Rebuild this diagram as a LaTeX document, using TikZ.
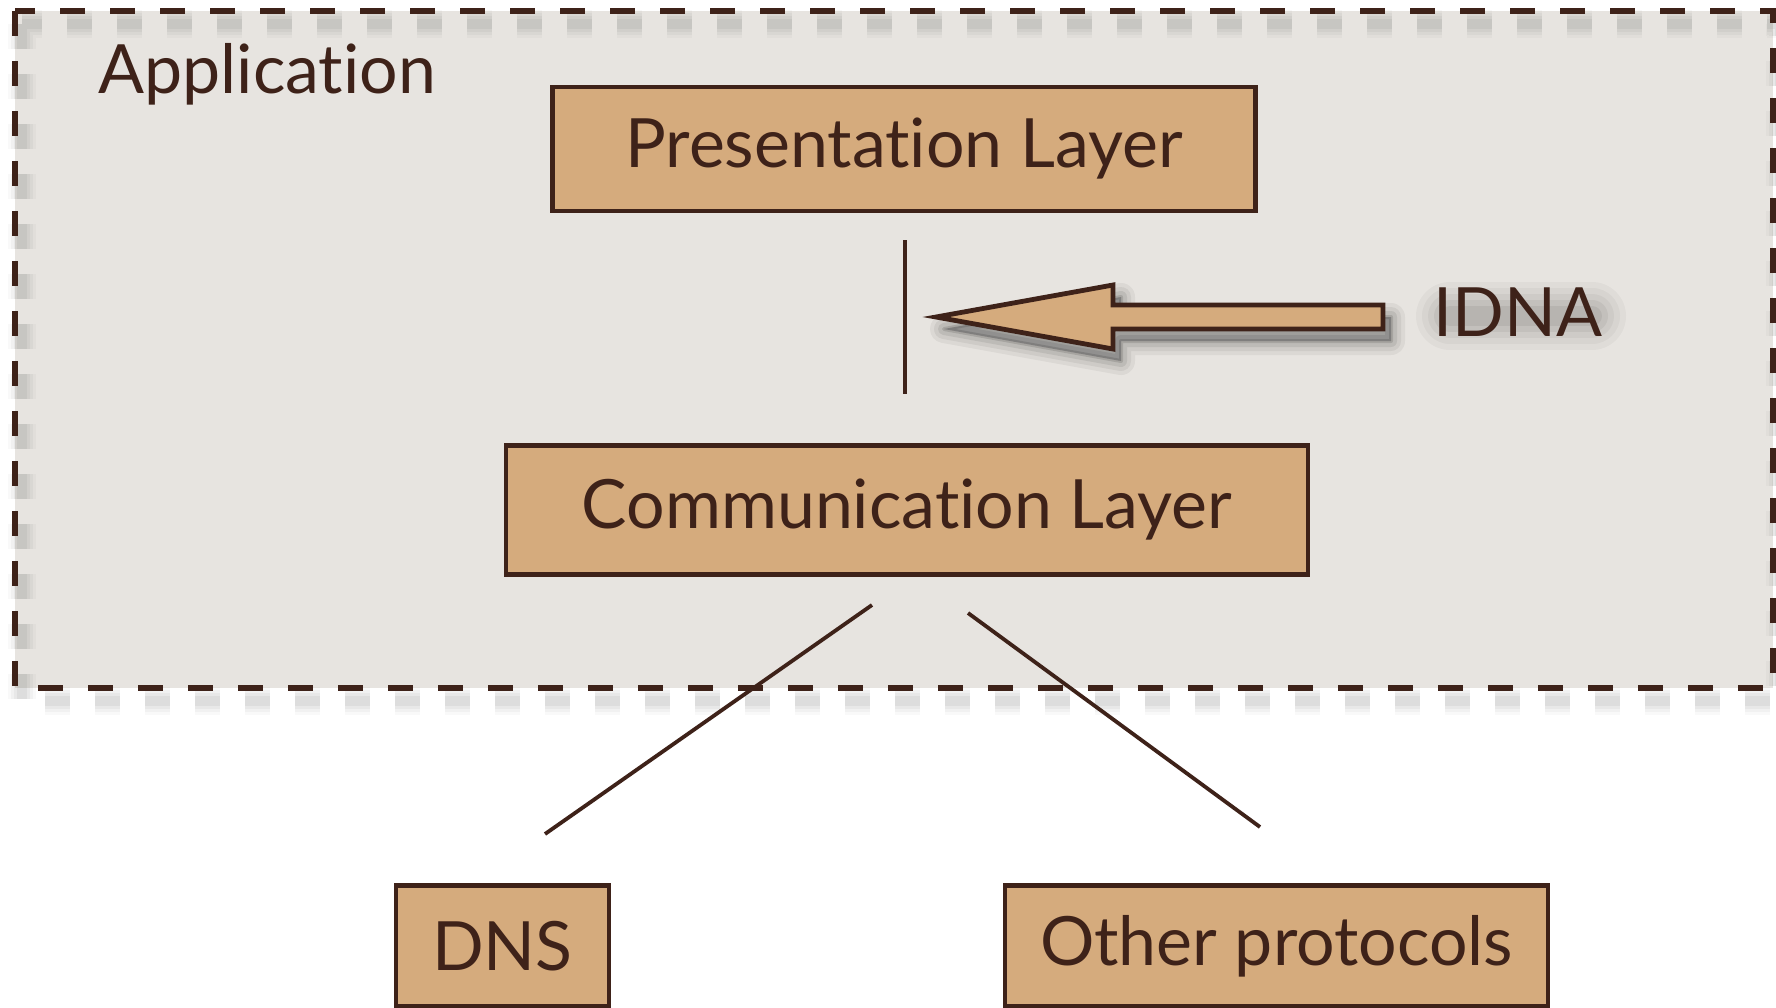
\documentclass[tikz,border=0pt]{standalone}
\usepackage{fontspec}
\setmainfont{Lato}[Ligatures={NoCommon,NoRequired}]
\usetikzlibrary{shadows.blur}
\definecolor{ink}{HTML}{3E2219}
\definecolor{tan}{HTML}{D5AB7D}
\definecolor{paper}{HTML}{E7E4E0}
\tikzset{
  layerbox/.style={draw=ink, line width=2.4pt, fill=tan, minimum height=0pt, inner sep=0pt, text=ink, font=\fontsize{34}{40}\selectfont},
  conn/.style={draw=ink, line width=1.9pt},
  lbl/.style={text=ink, inner sep=0pt, font=\fontsize{34}{40}\selectfont},
  dashbox/.style={line width=2.7pt, dash pattern=on 12.5pt off 12.5pt},
}
\begin{document}
\begin{tikzpicture}[x=0.5pt,y=-0.5pt]
\useasboundingbox (0,0) rectangle (1776,1007);
\fill[white] (0,0) rectangle (1776,1007);
% application area
\fill[paper] (15,11) rectangle (1773,688);
% blurred shadow of the dashed border
\foreach \w/\o in {14pt/0.025,11pt/0.03,8pt/0.035,5pt/0.045}{
  \draw[black, opacity=\o, line width=\w, dash pattern=on 12.5pt off 12.5pt] (22,24) rectangle (1780,701);
}
\draw[ink, dashbox] (15,11) rectangle (1773,688);
\node[lbl, anchor=base west] (app) at (98,93) {Application};
% layers
\node[layerbox, minimum width=351.5pt, minimum height=62pt] (pres) at (904,149) {Presentation Layer};
\node[layerbox, minimum width=401pt, minimum height=64.5pt] (comm) at (907,510) {Communication Layer};
\node[layerbox, minimum width=106.5pt, minimum height=60.5pt] (dns) at (502.5,946) {DNS};
\node[layerbox, minimum width=271.5pt, minimum height=60.5pt] (other) at (1276.5,946) {Other protocols};
% connectors
\coordinate (vt) at (905,240);
\coordinate (vb) at (905,394);
\draw[conn] (vt) -- (vb);
\coordinate (l1) at (872,605);
\coordinate (l2) at (545,834);
\coordinate (r1) at (968,613);
\coordinate (r2) at (1260,827);
\draw[conn] (l1) -- (l2);
\draw[conn] (r1) -- (r2);
% IDNA arrow shadow
\foreach \w/\o in {14pt/0.05,10pt/0.06,6pt/0.08,2pt/0.12}{
  \draw[black, opacity=\o, line width=\w, line join=round, fill=black, fill opacity=0.06]
    (944,329) -- (1121,297) -- (1121,317) -- (1391,317) -- (1391,341) -- (1121,341) -- (1121,361) -- cycle;
}
\draw[ink, line width=2.4pt, fill=tan, line join=miter]
  (936,317) -- (1113,285) -- (1113,305) -- (1383,305) -- (1383,329) -- (1113,329) -- (1113,349) -- cycle;
% IDNA glow (soft)
\foreach \w/\o in {34pt/0.03,28pt/0.035,22pt/0.04,16pt/0.05,10pt/0.06}{
  \draw[black, opacity=\o, line width=\w, line cap=round] (1450,316) -- (1592,316);
}
\node[lbl, anchor=base west] (idna) at (1433,336) {IDNA};
\end{tikzpicture}
\end{document}
